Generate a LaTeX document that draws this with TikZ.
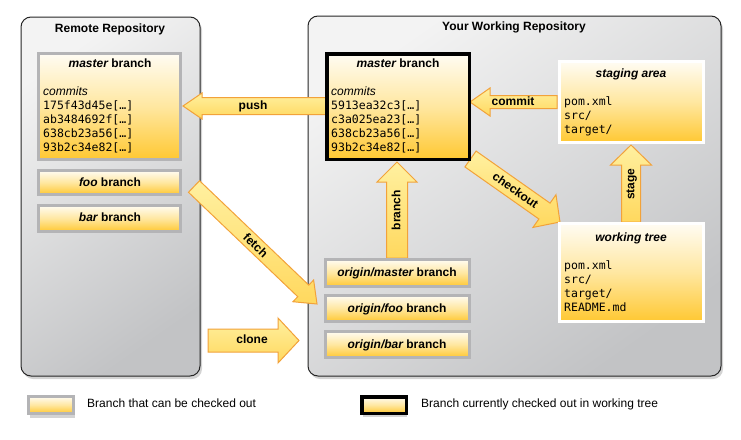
\documentclass[tikz,border=0pt]{standalone}
\usepackage{fontspec}
\setmainfont{Liberation Sans}
\setmonofont{DejaVu Sans Mono}
\usetikzlibrary{calc,shadows}
\definecolor{boxtop}{HTML}{FFFCF3}
\definecolor{boxmid}{HTML}{FFE7A0}
\definecolor{boxbot}{HTML}{FFC832}
\definecolor{boxgray}{HTML}{B4B4B6}
\definecolor{paneltop}{HTML}{F3F3F3}
\definecolor{panelbot}{HTML}{C2C3C5}
\definecolor{arrowlight}{HTML}{FFF0A0}
\definecolor{arrowdark}{HTML}{FFD85E}
\definecolor{arrowedge}{HTML}{F2A23A}
\newcommand\blockarrow[5]{%
  \coordinate (ba-h) at ($(#2)!#5!(#1)$);
  \draw[blockarrowstyle] ($(#1)!#3!90:(#2)$) -- ($(ba-h)!#3!-90:(#1)$) -- ($(ba-h)!#4!-90:(#1)$) -- (#2) -- ($(ba-h)!#4!90:(#1)$) -- ($(ba-h)!#3!90:(#1)$) -- ($(#1)!#3!-90:(#2)$) -- cycle;
}
\begin{document}
\begin{tikzpicture}[x=1pt,y=-1pt,
  panel/.style={draw=black!85, line width=1pt, rounded corners=10pt, top color=paneltop, bottom color=panelbot, shading angle=35, inner sep=0, outer sep=0,
    drop shadow={shadow xshift=2pt, shadow yshift=-3pt, opacity=0.35}},
  boxbase/.style={inner sep=0, outer sep=0, top color=boxtop, bottom color=boxbot, middle color=boxmid},
  branchbox/.style={boxbase, draw=boxgray, line width=3pt},
  currentbox/.style={boxbase, draw=black, line width=3.5pt},
  areabox/.style={boxbase, draw=white, line width=3pt},
  blockarrowstyle/.style={draw=arrowedge, line width=1pt, line join=miter, top color=arrowlight, bottom color=arrowdark},
  title/.style={font=\bfseries\fontsize{12}{14}\selectfont, inner sep=0},
  lbl/.style={font=\bfseries\fontsize{12}{14}\selectfont, inner sep=0, text height=9pt, text depth=2.5pt},
  arrowlbl/.style={font=\bfseries\fontsize{12}{14}\selectfont, inner sep=0, text height=9pt, text depth=2.5pt},
  itl/.style={font=\itshape\fontsize{12}{14}\selectfont, inner sep=0, anchor=west, text height=9pt, text depth=2.5pt},
  mono/.style={font=\ttfamily\fontsize{11.5}{14}\selectfont, inner sep=0, anchor=west, text height=8.5pt, text depth=2.5pt},
  legtext/.style={font=\fontsize{12}{14}\selectfont, inner sep=0, anchor=west, text height=9pt, text depth=2.5pt},
  legshadow/.style={drop shadow={shadow xshift=1pt, shadow yshift=-4pt, opacity=0.35}}
]
\useasboundingbox (0,0) rectangle (741,439);

% panels
\node[panel, minimum width=179, minimum height=359] (remote) at (110.5,196.5) {};
\node[panel, minimum width=413, minimum height=360] (work) at (514.5,196) {};
\node[title] (remotetitle) at (110,29) {Remote Repository};
\node[title] (worktitle) at (514,27) {Your Working Repository};

% block arrows
\coordinate (pushS) at (326,106); \coordinate (pushE) at (183,106);
\blockarrow{pushS}{pushE}{8.5pt}{13pt}{19pt}
\node[arrowlbl] (pushL) at (253,106) {push};

\coordinate (commitS) at (557,102); \coordinate (commitE) at (470,102);
\blockarrow{commitS}{commitE}{6.5pt}{14pt}{20pt}
\node[arrowlbl] (commitL) at (513,102) {commit};

\coordinate (stageS) at (631,222); \coordinate (stageE) at (631,145);
\blockarrow{stageS}{stageE}{9.5pt}{20.5pt}{20pt}
\node[arrowlbl, rotate=90] (stageL) at (631,184) {stage};

\coordinate (branchS) at (397,258); \coordinate (branchE) at (397,162);
\blockarrow{branchS}{branchE}{10.5pt}{20pt}{20pt}
\node[arrowlbl, rotate=90] (branchL) at (397,210) {branch};

\coordinate (checkoutS) at (470.5,159); \coordinate (checkoutE) at (560,222);
\blockarrow{checkoutS}{checkoutE}{9.7pt}{20pt}{19pt}
\node[arrowlbl, rotate=-35] (checkoutL) at (515,191) {checkout};

\coordinate (fetchS) at (194,186.5); \coordinate (fetchE) at (317,304);
\blockarrow{fetchS}{fetchE}{8pt}{15pt}{19pt}
\node[arrowlbl, rotate=-44] (fetchL) at (255,246) {fetch};

\coordinate (cloneS) at (208,340.5); \coordinate (cloneE) at (299,340.5);
\blockarrow{cloneS}{cloneE}{11.5pt}{22.5pt}{21pt}
\node[arrowlbl] (cloneL) at (252,340) {clone};

% remote boxes
\node[branchbox, minimum width=142, minimum height=106] (rmaster) at (109.5,106.5) {};
\node[branchbox, minimum width=142, minimum height=24] (rfoo) at (109.5,182.5) {};
\node[branchbox, minimum width=142, minimum height=26] (rbar) at (109.5,218.5) {};
\node[lbl] (rmasterT) at (110,64) {\itshape master\upshape{} branch};
\node[itl] (rcommits) at (43,92) {commits};
\node[mono] (rc1) at (43,106) {175f43d45e[…]};
\node[mono] (rc2) at (43,120) {ab3484692f[…]};
\node[mono] (rc3) at (43,134) {638cb23a56[…]};
\node[mono] (rc4) at (43,148) {93b2c34e82[…]};
\node[lbl] (rfooT) at (110,183) {\itshape foo\upshape{} branch};
\node[lbl] (rbarT) at (110,218) {\itshape bar\upshape{} branch};

% working boxes
\node[currentbox, minimum width=142.5, minimum height=105.5] (wmaster) at (398,106.5) {};
\node[lbl] (wmasterT) at (398,64) {\itshape master\upshape{} branch};
\node[itl] (wcommits) at (331,92) {commits};
\node[mono] (wc1) at (331,106) {5913ea32c3[…]};
\node[mono] (wc2) at (331,120) {c3a025ea23[…]};
\node[mono] (wc3) at (331,134) {638cb23a56[…]};
\node[mono] (wc4) at (331,148) {93b2c34e82[…]};

\node[areabox, minimum width=144, minimum height=81] (staging) at (631.5,102) {};
\node[lbl] (stagingT) at (631,74) {\itshape staging area};
\node[mono] (s1) at (564,102) {pom.xml};
\node[mono] (s2) at (564,116) {src/};
\node[mono] (s3) at (564,130) {target/};

\node[areabox, minimum width=144, minimum height=98] (wtree) at (631.5,272.5) {};
\node[lbl] (wtreeT) at (631,238) {\itshape working tree};
\node[mono] (t1) at (564,266) {pom.xml};
\node[mono] (t2) at (564,280) {src/};
\node[mono] (t3) at (564,294) {target/};
\node[mono] (t4) at (564,308) {README.md};

\node[branchbox, minimum width=144, minimum height=27] (omaster) at (397.5,273) {};
\node[branchbox, minimum width=144, minimum height=26] (ofoo) at (397.5,308.5) {};
\node[branchbox, minimum width=144, minimum height=26] (obar) at (397.5,344.5) {};
\node[lbl] (omasterT) at (397,273) {\itshape origin/master\upshape{} branch};
\node[lbl] (ofooT) at (397,309) {\itshape origin/foo\upshape{} branch};
\node[lbl] (obarT) at (397,345) {\itshape origin/bar\upshape{} branch};

% legend
\node[branchbox, legshadow, minimum width=45, minimum height=17] (leg1) at (51,405) {};
\node[legtext] (leg1T) at (87,404) {Branch that can be checked out};
\node[currentbox, legshadow, minimum width=44.5, minimum height=16.5] (leg2) at (384,405) {};
\node[legtext] (leg2T) at (421,404) {Branch currently checked out in working tree};
\end{tikzpicture}
\end{document}
